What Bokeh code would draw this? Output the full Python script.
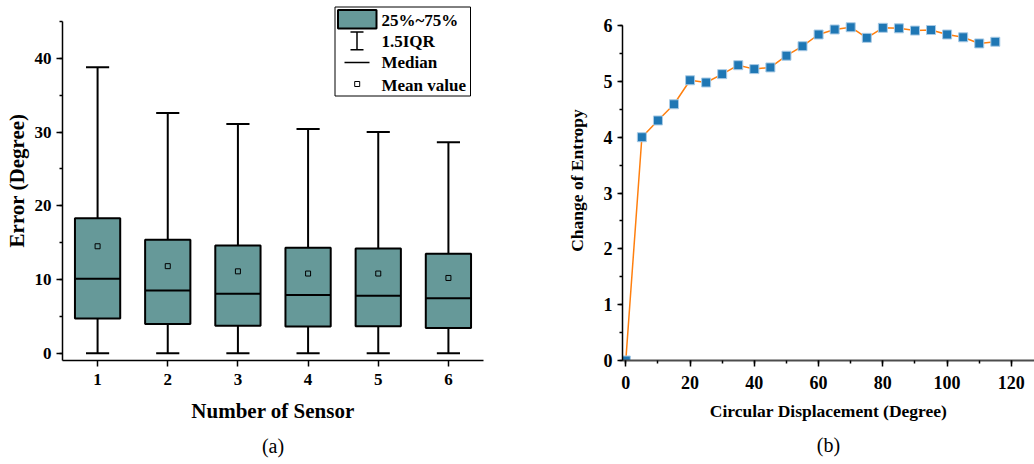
import numpy as np
from bokeh.plotting import figure
from bokeh.models import Range1d, FixedTicker, SingleIntervalTicker, Title
from bokeh.layouts import row
from bokeh.embed import file_html
from bokeh.resources import INLINE
from bokeh.core.properties import value

# ---------------- data: (a) box plot ----------------
sensors = [1, 2, 3, 4, 5, 6]
q1 = [4.7, 3.94, 3.7, 3.6, 3.65, 3.4]
q3 = [18.3, 15.4, 14.6, 14.3, 14.2, 13.5]
medians = [10.1, 8.5, 8.05, 7.9, 7.8, 7.45]
means = [14.5, 11.8, 11.1, 10.8, 10.8, 10.2]
whisker_low = [0, 0, 0, 0, 0, 0]
whisker_high = [38.8, 32.6, 31.1, 30.4, 30.0, 28.6]
legend_labels = ["25%~75%", "1.5IQR", "Median", "Mean value"]

# ---------------- data: (b) line chart ----------------
displacement = [0, 5, 10, 15, 20, 25, 30, 35, 40, 45, 50, 55,
                60, 65, 70, 75, 80, 85, 90, 95, 100, 105, 110, 115]
entropy = [0.0, 4.0, 4.30, 4.59, 5.02, 4.98, 5.13, 5.29, 5.22, 5.25, 5.46, 5.63,
           5.84, 5.93, 5.97, 5.78, 5.96, 5.95, 5.91, 5.92, 5.84, 5.79, 5.68, 5.71]

FONT = "Liberation Serif"
TEAL = "#669999"


def style_axes(p, tick_size, title_size):
    p.grid.visible = False
    p.outline_line_color = None
    p.background_fill_color = "white"
    p.border_fill_color = "white"
    for ax in (p.xaxis[0], p.yaxis[0]):
        ax.axis_line_color = "black"
        ax.axis_line_width = 1.5
        ax.major_tick_line_color = "black"
        ax.major_tick_line_width = 1.5
        ax.minor_tick_line_color = "black"
        ax.minor_tick_line_width = 1.5
        ax.major_tick_in = 0
        ax.major_tick_out = 6
        ax.minor_tick_in = 0
        ax.minor_tick_out = 3
        ax.major_label_text_font = FONT
        ax.major_label_text_font_style = "bold"
        ax.major_label_text_font_size = tick_size
        ax.major_label_text_color = "black"
        ax.axis_label_text_font = FONT
        ax.axis_label_text_font_style = "bold"
        ax.axis_label_text_font_size = title_size
        ax.axis_label_text_color = "black"


# ================= (a) =================
p1 = figure(width=540, height=464, output_backend="svg", toolbar_location=None,
            x_range=Range1d(0.5, 6.5), y_range=Range1d(-1, 47.85),
            min_border_left=62, min_border_right=57,
            min_border_top=0, min_border_bottom=104)
p1.extra_x_ranges = {"px": Range1d(62, 483)}
p1.extra_y_ranges = {"px": Range1d(360, 0)}

x = np.array(sensors, dtype=float)
box_w = 0.645
cap_w = 0.33
lw = 2
p1.segment(x, whisker_high, x, q3, line_color="black", line_width=lw)
p1.segment(x, whisker_low, x, q1, line_color="black", line_width=lw)
p1.segment(x - cap_w / 2, whisker_high, x + cap_w / 2, whisker_high, line_color="black", line_width=lw)
p1.segment(x - cap_w / 2, whisker_low, x + cap_w / 2, whisker_low, line_color="black", line_width=lw)
p1.vbar(x=x, width=box_w, bottom=q1, top=q3, fill_color=TEAL, line_color="black", line_width=lw)
p1.segment(x - box_w / 2, medians, x + box_w / 2, medians, line_color="black", line_width=lw)
p1.scatter(x, means, marker="square", size=5, fill_color=TEAL, line_color="black", line_width=1)

# legend (drawn in pixel range)
R = dict(x_range_name="px", y_range_name="px")
p1.quad(left=[334.5], right=[470], top=[6.5], bottom=[95.5], fill_color="white",
        line_color="black", line_width=1, **R)
p1.quad(left=[337.5], right=[376], top=[9.5], bottom=[28], fill_color=TEAL,
        line_color="black", line_width=2, **R)
p1.segment([356.5, 350, 350], [31.5, 31.5, 49.3], [356.5, 363, 363], [49.3, 31.5, 49.3],
           line_color="black", line_width=1.5, **R)
p1.segment([344], [62], [369], [62], line_color="black", line_width=1.5, **R)
p1.scatter([356.7], [83.5], marker="square", size=5, fill_color="white",
           line_color="black", line_width=1, **R)
p1.text(x=[381] * 4, y=[19.5, 40.5, 62, 84.5], text=legend_labels,
        text_font=value(FONT), text_font_style="bold", text_font_size="17px",
        text_baseline="middle", text_align="left", text_color="black", **R)

style_axes(p1, "17px", "21px")
p1.xaxis.ticker = FixedTicker(ticks=sensors)
p1.xaxis.minor_tick_line_color = None
p1.xaxis.major_label_standoff = 7
p1.xaxis.axis_label = "Number of Sensor"
p1.xaxis.axis_label_standoff = 11
p1.yaxis.ticker = SingleIntervalTicker(interval=10, num_minor_ticks=2)
p1.yaxis.bounds = (-1, 45)
p1.yaxis.major_label_standoff = 5
p1.yaxis.axis_label = "Error (Degree)"
p1.yaxis.axis_label_standoff = 3

p1.add_layout(Title(text="(a)", align="center", offset=-28, standoff=15,
                    text_font=FONT, text_font_style="normal", text_font_size="20px",
                    text_color="black"), "below")

# ================= (b) =================
p2 = figure(width=494, height=464, output_backend="svg", toolbar_location=None,
            x_range=Range1d(-1.03, 127.2), y_range=Range1d(0, 6.449),
            min_border_left=82, min_border_right=0,
            min_border_top=0, min_border_bottom=100)
p2.line(displacement, entropy, line_color="#ff7f0e", line_width=1.5)
p2.scatter(displacement, entropy, marker="square", size=9, fill_color="#1f77b4",
           line_color="#a9cbe6", line_width=1)

style_axes(p2, "18px", "17.5px")
p2.xaxis.ticker = SingleIntervalTicker(interval=20, num_minor_ticks=2)
p2.xaxis.axis_line_color = "#4d4d4d"
p2.xaxis.axis_line_width = 2
p2.xaxis.major_label_standoff = 9
p2.xaxis.axis_label = "Circular Displacement (Degree)"
p2.xaxis.axis_label_standoff = 9
p2.yaxis.ticker = SingleIntervalTicker(interval=1, num_minor_ticks=2)
p2.yaxis.bounds = (0, 6)
p2.yaxis.major_tick_out = 5
p2.yaxis.major_label_standoff = 5
p2.yaxis.axis_label = "Change of Entropy"
p2.yaxis.axis_label_standoff = 14

p2.add_layout(Title(text="(b)", align="center", offset=-24, standoff=17,
                    text_font=FONT, text_font_style="normal", text_font_size="20px",
                    text_color="black"), "below")

layout = row(p1, p2)
open("out.html", "w").write(file_html(layout, INLINE))
